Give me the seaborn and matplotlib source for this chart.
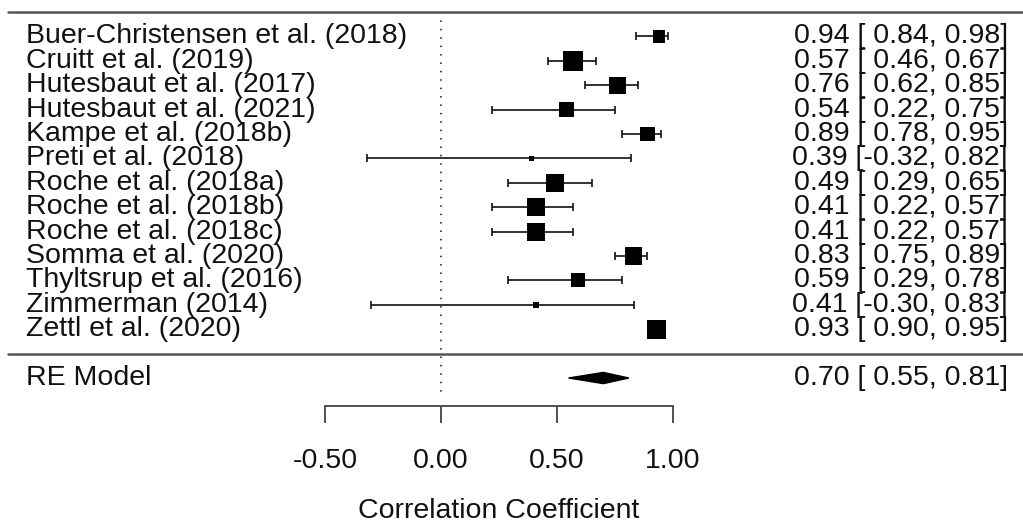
import numpy as np
import pandas as pd
import matplotlib
matplotlib.use("Agg")
import matplotlib.pyplot as plt
import seaborn as sns

studies = ["Buer-Christensen et al. (2018)", "Cruitt et al. (2019)", "Hutesbaut et al. (2017)",
           "Hutesbaut et al. (2021)", "Kampe et al. (2018b)", "Preti et al. (2018)",
           "Roche et al. (2018a)", "Roche et al. (2018b)", "Roche et al. (2018c)",
           "Somma et al. (2020)", "Thyltsrup et al. (2016)", "Zimmerman (2014)",
           "Zettl et al. (2020)"]
estimates = [0.94, 0.57, 0.76, 0.54, 0.89, 0.39, 0.49, 0.41, 0.41, 0.83, 0.59, 0.41, 0.93]
ci_lower = [0.84, 0.46, 0.62, 0.22, 0.78, -0.32, 0.29, 0.22, 0.22, 0.75, 0.29, -0.30, 0.90]
ci_upper = [0.98, 0.67, 0.85, 0.75, 0.95, 0.82, 0.65, 0.57, 0.57, 0.89, 0.78, 0.83, 0.95]
weights = [6.6, 10.0, 8.6, 7.6, 7.6, 3.1, 9.0, 9.0, 9.0, 9.0, 7.2, 3.5, 9.4]
re_label = "RE Model"
re_est, re_lo, re_hi = 0.70, 0.55, 0.81
xticks = [-0.5, 0.0, 0.5, 1.0]
xlabel = "Correlation Coefficient"

sns.set_style("white")
plt.rcParams["font.family"] = ["Liberation Sans", "DejaVu Sans"]

k = len(studies)
rows = np.arange(k, 0, -1)
df = pd.DataFrame({"study": studies, "est": estimates, "lo": ci_lower,
                   "hi": ci_upper, "w": weights, "row": rows})

fig = plt.figure(figsize=(10.23, 5.22), dpi=100)
ax = fig.add_axes([0, 0, 1, 1])
ax.set_xlim(-1.901, 2.509)
ax.set_ylim(-6.90, 14.49)

FS = 20.5
INK = "#111111"

# reference line at zero
ax.plot([0, 0], [k + 1, -1.78], color=INK, lw=1.1, ls=(0, (1, 4.5)), zorder=1)

# header and separator lines
ax.plot([-1.866, 2.509], [k + 1, k + 1], color="#555555", lw=1.8, zorder=1)
ax.plot([-1.866, 2.509], [0, 0], color="#555555", lw=1.8, zorder=1)

# CI whiskers
ax.errorbar(df["est"], df["row"], xerr=[df["est"] - df["lo"], df["hi"] - df["est"]],
            fmt="none", ecolor=INK, elinewidth=1.2, capsize=2.6, capthick=1.2, zorder=2)

# squares sized by weight (side linear in weight)
wmin, wmax = df["w"].min(), df["w"].max()
side_px = 5 + 15 * (df["w"] - wmin) / (wmax - wmin)
side_pt = side_px * 72 / 100
sns.scatterplot(data=df, x="est", y="row", marker="s", s=side_pt ** 2,
                color="black", edgecolor="none", linewidth=0, ax=ax, zorder=3, legend=False)

# RE diamond
h = 0.23
ax.fill([re_lo, re_est, re_hi, re_est], [-1, -1 + h, -1, -1 - h], color="black", zorder=3)

# text
for _, r in df.iterrows():
    ax.text(-1.789, r["row"], r["study"], ha="left", va="center", fontsize=FS, color=INK)
    ann = f"{r['est']:.2f} [{r['lo']:5.2f}, {r['hi']:.2f}]"
    ax.text(2.444, r["row"], ann, ha="right", va="center", fontsize=FS, color=INK)
ax.text(-1.789, -1, re_label, ha="left", va="center", fontsize=FS, color=INK)
ax.text(2.444, -1, f"{re_est:.2f} [{re_lo:5.2f}, {re_hi:.2f}]", ha="right", va="center",
        fontsize=FS, color=INK)

# x axis
for s in ["top", "left", "right"]:
    ax.spines[s].set_visible(False)
ax.spines["bottom"].set_position(("data", -2.15))
ax.spines["bottom"].set_bounds(-0.5, 1.0)
ax.spines["bottom"].set_color("#444444")
ax.spines["bottom"].set_linewidth(1.3)
ax.set_xticks(xticks)
ax.set_xticklabels([f"{t:.2f}" for t in xticks])
ax.tick_params(axis="x", direction="out", length=12.5, width=1.3, color="#444444",
               pad=17.5, labelsize=FS, labelcolor=INK, bottom=True)
ax.set_yticks([])
ax.set_xlabel("")
ax.set_ylabel("")
ax.text(0.25, -6.43, xlabel, ha="center", va="center", fontsize=FS, color=INK)

fig.savefig("out.png", dpi=100)
